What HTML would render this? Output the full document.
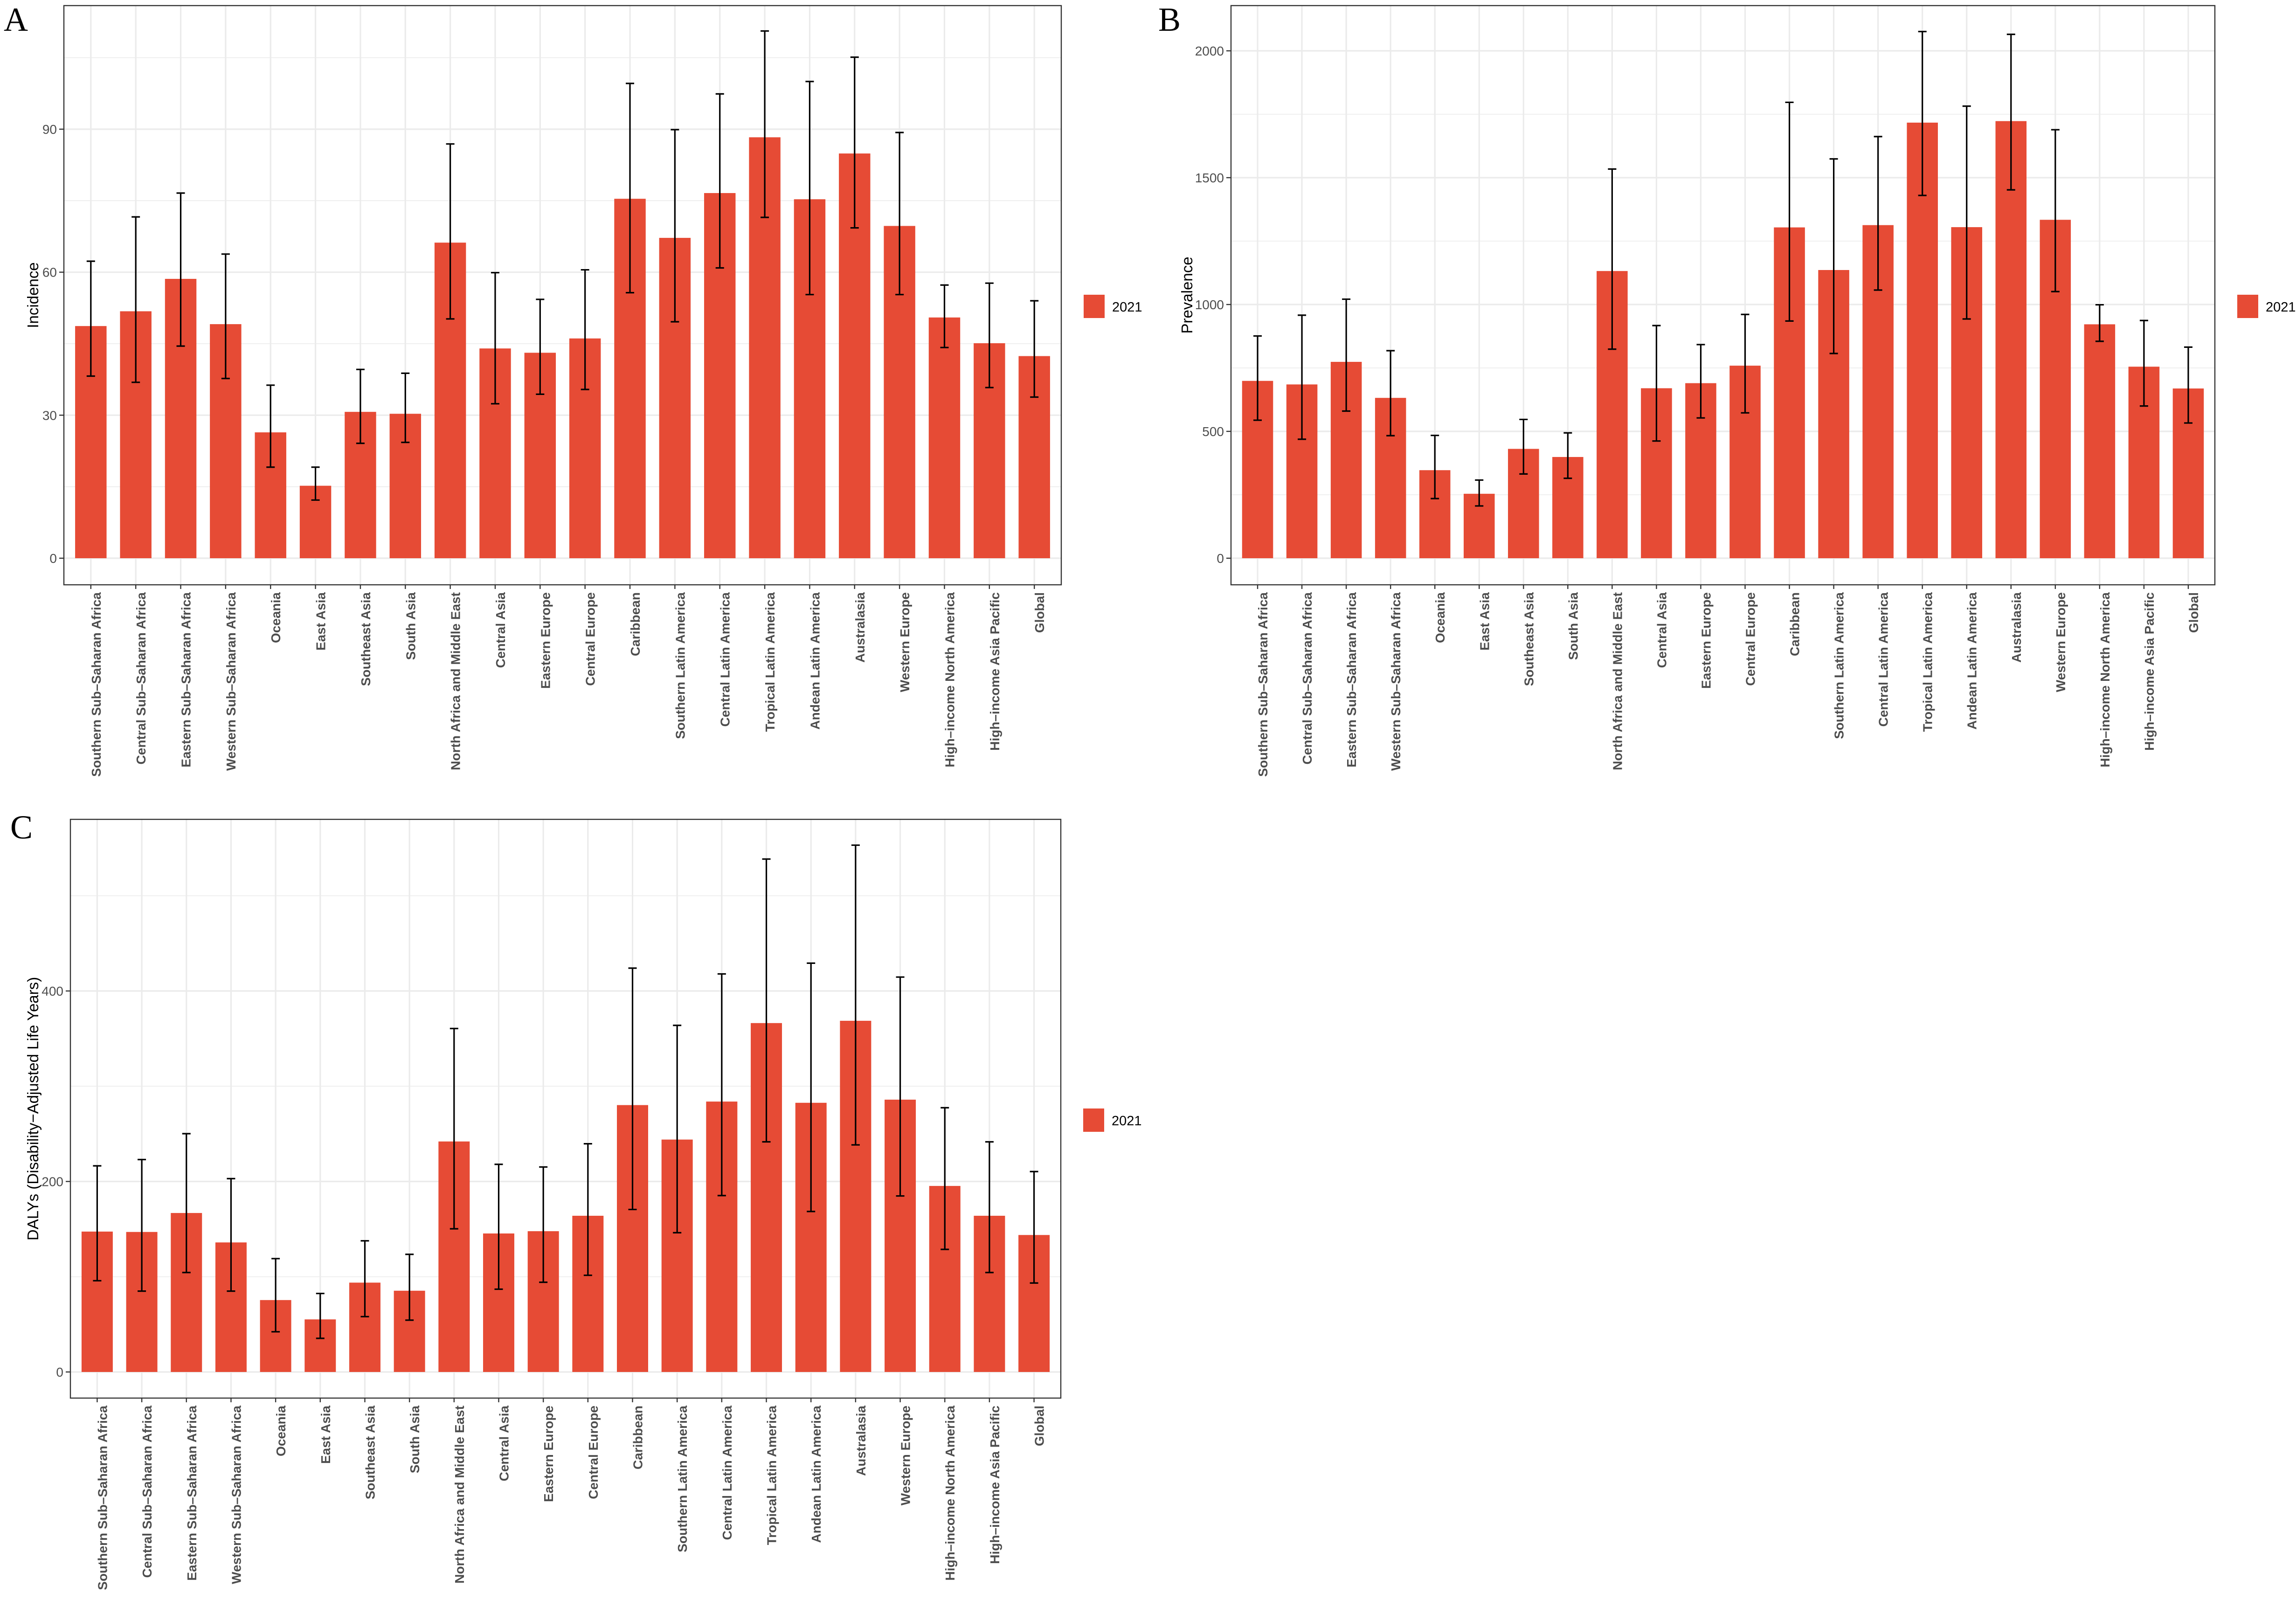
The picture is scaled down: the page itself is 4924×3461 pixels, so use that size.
<!DOCTYPE html>
<html><head><meta charset="utf-8"><title>Incidence, Prevalence and DALYs by region, 2021</title>
<style>
html,body{margin:0;padding:0;background:#fff;}
svg{display:block;}
</style></head>
<body>
<svg id="fig" xmlns="http://www.w3.org/2000/svg" width="4924" height="3461" viewBox="0 0 4924 3461">
<rect x="0" y="0" width="4924" height="3461" fill="#fff"/>
</svg>
<script>
// ---- data ----
const categories = ["Southern Sub\u2013Saharan Africa","Central Sub\u2013Saharan Africa","Eastern Sub\u2013Saharan Africa","Western Sub\u2013Saharan Africa","Oceania","East Asia","Southeast Asia","South Asia","North Africa and Middle East","Central Asia","Eastern Europe","Central Europe","Caribbean","Southern Latin America","Central Latin America","Tropical Latin America","Andean Latin America","Australasia","Western Europe","High\u2013income North America","High\u2013income Asia Pacific","Global"];
const incidenceVal = [48.7,51.8,58.6,49.1,26.4,15.2,30.7,30.3,66.2,44.0,43.1,46.1,75.4,67.2,76.6,88.3,75.3,84.9,69.7,50.5,45.1,42.4];
const incidenceUpper = [62.3,71.6,76.6,63.8,36.3,19.1,39.6,38.8,86.9,59.9,54.3,60.5,99.6,89.9,97.4,110.6,100.0,105.1,89.3,57.3,57.7,54.0];
const incidenceLower = [38.2,36.9,44.5,37.7,19.1,12.2,24.1,24.3,50.2,32.4,34.4,35.4,55.7,49.6,60.9,71.5,55.3,69.3,55.3,44.2,35.8,33.8];
const prevalenceVal = [699,685,774,632,347,254,431,399,1132,670,690,759,1304,1136,1313,1717,1305,1723,1334,922,755,669];
const prevalenceUpper = [876,958,1021,818,484,308,547,494,1534,917,842,961,1797,1574,1662,2076,1782,2065,1689,999,937,832];
const prevalenceLower = [544,469,580,483,235,206,332,315,824,462,553,573,935,807,1057,1430,943,1452,1051,855,600,533];
const dalysVal = [147.4,147,166.9,136,75.5,55.2,93.8,85.3,242,145.4,147.8,164,280.2,244,283.9,366.3,282.6,368.7,285.9,195.3,164,143.8];
const dalysUpper = [216.4,223,250.2,203,119,82.4,137.7,123.5,360.6,218,215.2,239.6,424,363.9,417.9,538.5,429.2,553.1,414.6,277.4,241.6,210.4];
const dalysLower = [95.8,84.9,104.4,84.9,42.2,35.3,58.1,54.4,150.3,86.9,94.2,101.5,170.6,146.2,185.2,241.6,168.5,238.4,184.8,128.7,104.4,93.4];
const incidenceTicks = [0,30,60,90];
const prevalenceTicks = [0,500,1000,1500,2000];
const dalysTicks = [0,200,400];
const legendLabel = "2021";

const NS = "http://www.w3.org/2000/svg";
const svg = document.getElementById('fig');
function mk(tag, attrs, parent){
  const e = document.createElementNS(NS, tag);
  for (const k in attrs) e.setAttribute(k, attrs[k]);
  (parent||svg).appendChild(e);
  return e;
}

function drawPanel(p){
  const g = mk('g', {});
  
  
  const L=p.left, R=p.right, T=p.top, B=p.bottom;
  const n = categories.length;
  const step = (R-L)/(n-1+1.2);
  const xs = i => L + step*(0.6+i);
  const ys = v => p.y0 + (p.yTop - p.y0)*(v - 0)/(p.vTop);
  // minor gridlines
  for (let k=0;k<p.ticks.length;k++){
    const mv = p.ticks[k] + (p.ticks[1]-p.ticks[0])/2;
    const yy = ys(mv);
    if (yy>T && yy<B){
      const ln = mk('line',{x1:L,x2:R,y1:yy,y2:yy,stroke:'#EBEBEB','stroke-width':1.6},g);
      
      
    }
  }
  // major gridlines
  p.ticks.forEach(t=>{
    const yy=ys(t);
    const ln = mk('line',{x1:L,x2:R,y1:yy,y2:yy,stroke:'#EBEBEB','stroke-width':3.2},g);
    
    
  });
  categories.forEach((c,i)=>{
    const ln = mk('line',{x1:xs(i),x2:xs(i),y1:T,y2:B,stroke:'#EBEBEB','stroke-width':3.2},g);
    
    
  });
  // bars
  const bw = step*0.7;
  categories.forEach((c,i)=>{
    const v = p.vals[i];
    const r = mk('rect',{x:xs(i)-bw/2,y:ys(v),width:bw,height:ys(0)-ys(v),fill:'#E64B35'},g);
    
    
  });
  // error bars
  categories.forEach((c,i)=>{
    const eg = mk('g',{stroke:'#000','stroke-width':3.2,fill:'none'},g);
    
    
    const x=xs(i), yu=ys(p.upper[i]), yl=ys(p.lower[i]), hw=9;
    mk('line',{x1:x,x2:x,y1:yu,y2:yl},eg);
    mk('line',{x1:x-hw,x2:x+hw,y1:yu,y2:yu},eg);
    mk('line',{x1:x-hw,x2:x+hw,y1:yl,y2:yl},eg);
  });
  // border
  const bd = mk('rect',{x:L,y:T,width:R-L,height:B-T,fill:'none',stroke:'#333','stroke-width':2.4},g);
  
  
  // y ticks & labels
  p.ticks.forEach(t=>{
    const yy=ys(t);
    mk('line',{x1:L-10,x2:L,y1:yy,y2:yy,stroke:'#333','stroke-width':2.4},g);
    const tx = mk('text',{x:L-15,y:yy+10,'text-anchor':'end','font-family':'Liberation Sans, Arial, sans-serif','font-size':28,fill:'#4D4D4D'},g);
    tx.textContent = t;
    
    
  });
  // x ticks & labels
  categories.forEach((c,i)=>{
    const x=xs(i);
    mk('line',{x1:x,x2:x,y1:B,y2:B+9,stroke:'#333','stroke-width':2.4},g);
    const tx = mk('text',{x:0,y:0,'text-anchor':'end','font-family':'Liberation Sans, Arial, sans-serif','font-size':28,'font-weight':'bold',fill:'#4D4D4D',transform:'translate('+(x+21)+','+(B+16)+') rotate(-90)'},g);
    tx.textContent = c;
    
    
  });
  // y title
  const cy=(T+B)/2;
  const yt = mk('text',{x:0,y:0,'text-anchor':'middle','font-family':'Liberation Sans, Arial, sans-serif','font-size':33,fill:'#000',transform:'translate('+(p.titleX)+','+cy+') rotate(-90)'},g);
  yt.textContent = p.title;
  
  
  // legend
  const lg = mk('g',{},g);
  
  
  const sw = mk('rect',{x:R+48,y:p.legY-25,width:45,height:50,fill:'#E64B35'},lg);
  
  
  const lt = mk('text',{x:R+109,y:p.legY+11,'font-family':'Liberation Sans, Arial, sans-serif','font-size':29,fill:'#000'},lg);
  lt.textContent = legendLabel;
  
  
  // panel letter
  const pl = mk('text',{x:p.letterX,y:p.letterY,'font-family':'Liberation Serif, Times New Roman, serif','font-size':72,fill:'#000'},g);
  pl.textContent = p.letter;
  
  
}

drawPanel({name:'incidence',left:137,right:2276,top:12,bottom:1254,y0:1197,yTop:277,vTop:90,
  ticks:incidenceTicks,vals:incidenceVal,upper:incidenceUpper,lower:incidenceLower,
  title:'Incidence',titleX:82,legY:657,letter:'A',letterX:8,letterY:66});
drawPanel({name:'prevalence',left:2640,right:4750,top:12,bottom:1254,y0:1197,yTop:109,vTop:2000,
  ticks:prevalenceTicks,vals:prevalenceVal,upper:prevalenceUpper,lower:prevalenceLower,
  title:'Prevalence',titleX:2557,legY:657,letter:'B',letterX:2484,letterY:66});
drawPanel({name:'dalys',left:151,right:2275,top:1757,bottom:2998,y0:2942,yTop:2125,vTop:400,
  ticks:dalysTicks,vals:dalysVal,upper:dalysUpper,lower:dalysLower,
  title:'DALYs (Disability\u2212Adjusted Life Years)',titleX:82,legY:2402,letter:'C',letterX:22,letterY:1798});
</script>
</body></html>
